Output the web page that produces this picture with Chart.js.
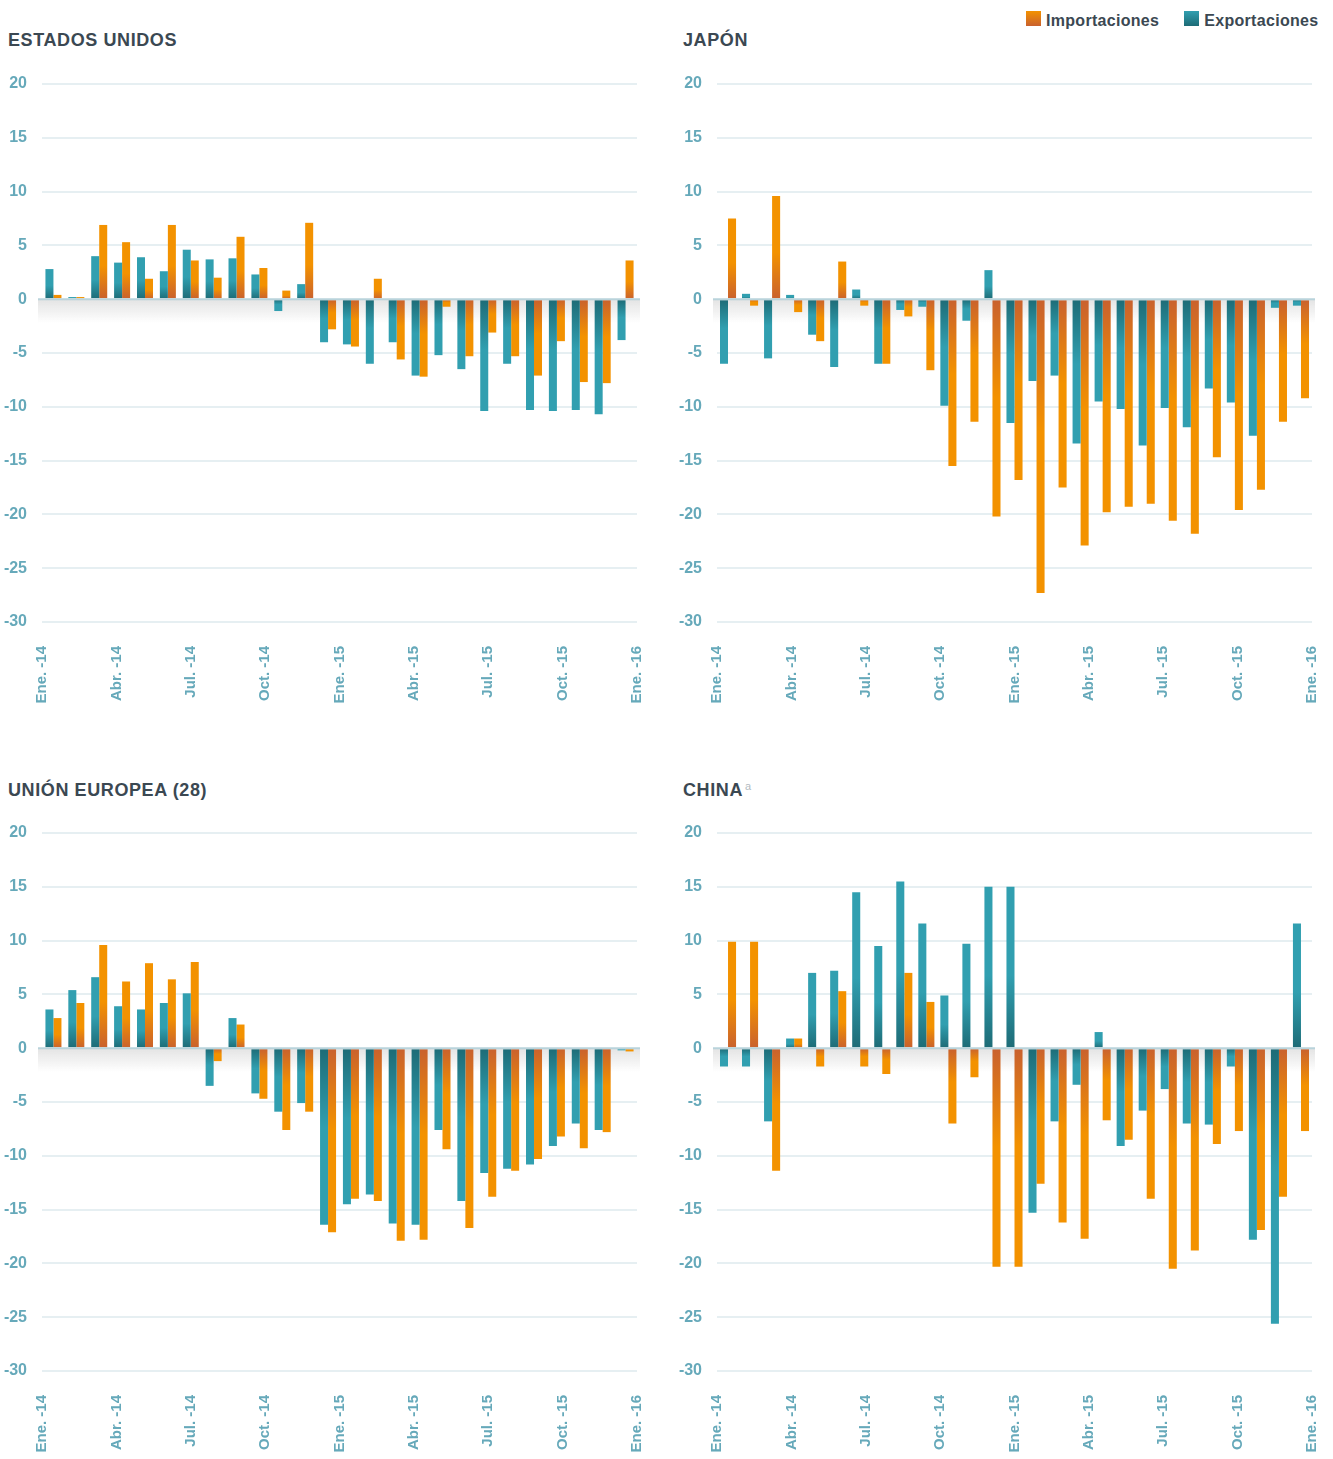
<!DOCTYPE html>
<html lang="es">
<head>
<meta charset="utf-8">
<title>Exportaciones e importaciones</title>
<script src="https://cdn.jsdelivr.net/npm/chart.js@4.4.1/dist/chart.umd.min.js"></script>
<style>
  body { margin: 0; background: #fff; font-family: 'Liberation Sans', Arial, sans-serif; }
  #page { position: relative; width: 1333px; height: 1459px; overflow: hidden; }
  .title { position: absolute; font-size: 18px; line-height: 18px; font-weight: bold; color: #3b4852; letter-spacing: 0.6px; white-space: nowrap; }
  .title sup { font-size: 11px; font-weight: normal; color: #b2bbc1; position: relative; top: -4px; margin-left: 2px; vertical-align: top; }
  .panel { position: absolute; width: 660px; height: 645px; }
  .legend { position: absolute; top: 11px; left: 1026px; display: flex; align-items: center; font-size: 16px; line-height: 16px; font-weight: bold; color: #3b4852; letter-spacing: 0.3px; white-space: nowrap; }
  .legend .sw { display: inline-block; width: 15px; height: 15px; margin-right: 5px; }
  .legend .item + .item { margin-left: 25px; }
</style>
</head>
<body>
<div id="page">
  <div class="legend">
    <span class="item"><span class="sw" style="background:linear-gradient(#f39200,#c9612e)"></span>Importaciones</span>
    <span class="item"><span class="sw" style="background:linear-gradient(#319fb0,#1d6b76)"></span>Exportaciones</span>
  </div>

  <div class="title" style="left:8px;top:31px">ESTADOS UNIDOS</div>
  <div class="title" style="left:683px;top:31px">JAPÓN</div>
  <div class="title" style="left:8px;top:781px">UNIÓN EUROPEA (28)</div>
  <div class="title" style="left:683px;top:781px">CHINA<sup>a</sup></div>

  <div class="panel" style="left:0;top:66px"><canvas id="eeuu"></canvas></div>
  <div class="panel" style="left:675px;top:66px"><canvas id="japon"></canvas></div>
  <div class="panel" style="left:0;top:815px"><canvas id="ue"></canvas></div>
  <div class="panel" style="left:675px;top:815px"><canvas id="china"></canvas></div>
</div>

<script>
// months behind the bars (Ene-14 .. Mar-16)
const MESES = ['Ene-14','Feb-14','Mar-14','Abr-14','May-14','Jun-14','Jul-14','Ago-14','Sep-14','Oct-14','Nov-14','Dic-14',
  'Ene-15','Feb-15','Mar-15','Abr-15','May-15','Jun-15','Jul-15','Ago-15','Sep-15','Oct-15','Nov-15','Dic-15',
  'Ene-16','Feb-16','Mar-16'];

// tick labels along the bottom axis
const ETIQUETAS = ['Ene. -14','','','Abr. -14','','','Jul. -14','','','Oct. -14','','',
  'Ene. -15','','','Abr. -15','','','Jul. -15','','','Oct. -15','','','Ene. -16'];

const Y_TICKS = [20, 15, 10, 5, 0, -5, -10, -15, -20, -25, -30];

const eeuuExp = [2.8, 0.2, 4.0, 3.4, 3.9, 2.6, 4.6, 3.7, 3.8, 2.3, -1.1, 1.4, -4.0, -4.2, -6.0, -4.0, -7.1, -5.2, -6.5, -10.4, -6.0, -10.3, -10.4, -10.3, -10.7, -3.8];
const eeuuImp = [0.4, 0.2, 6.9, 5.3, 1.9, 6.9, 3.6, 2.0, 5.8, 2.9, 0.8, 7.1, -2.8, -4.4, 1.9, -5.6, -7.2, -0.7, -5.3, -3.1, -5.3, -7.1, -3.9, -7.7, -7.8, 3.6];

const japonExp = [-6.0, 0.5, -5.5, 0.4, -3.3, -6.3, 0.9, -6.0, -1.0, -0.7, -9.9, -2.0, 2.7, -11.5, -7.6, -7.1, -13.4, -9.5, -10.2, -13.6, -10.1, -11.9, -8.3, -9.6, -12.7, -0.8, -0.6];
const japonImp = [7.5, -0.6, 9.6, -1.2, -3.9, 3.5, -0.6, -6.0, -1.6, -6.6, -15.5, -11.4, -20.2, -16.8, -27.3, -17.5, -22.9, -19.8, -19.3, -19.0, -20.6, -21.8, -14.7, -19.6, -17.7, -11.4, -9.2];

const ueExp = [3.6, 5.4, 6.6, 3.9, 3.6, 4.2, 5.1, -3.5, 2.8, -4.2, -5.9, -5.1, -16.4, -14.5, -13.6, -16.3, -16.4, -7.6, -14.2, -11.6, -11.2, -10.8, -9.1, -7.0, -7.6, -0.2];
const ueImp = [2.8, 4.2, 9.6, 6.2, 7.9, 6.4, 8.0, -1.2, 2.2, -4.7, -7.6, -5.9, -17.1, -14.0, -14.2, -17.9, -17.8, -9.4, -16.7, -13.8, -11.4, -10.3, -8.2, -9.3, -7.8, -0.3];

const chinaExp = [-1.7, -1.7, -6.8, 0.9, 7.0, 7.2, 14.5, 9.5, 15.5, 11.6, 4.9, 9.7, 15.0, 15.0, -15.3, -6.8, -3.4, 1.5, -9.1, -5.8, -3.8, -7.0, -7.1, -1.7, -17.8, -25.6, 11.6];
const chinaImp = [9.9, 9.9, -11.4, 0.9, -1.7, 5.3, -1.7, -2.4, 7.0, 4.3, -7.0, -2.7, -20.3, -20.3, -12.6, -16.2, -17.7, -6.7, -8.5, -14.0, -20.5, -18.8, -8.9, -7.7, -16.9, -13.8, -7.7];

const TEAL = ['#319fb0', '#1d6b76'];
const ORANGE = ['#f39200', '#c9612e'];
const TICK_COLOR = '#66a9ba';

// each bar darkens towards the zero line
function barFill([bright, dark]) {
  return c => {
    const chart = c.chart;
    if (!chart.chartArea || c.raw == null) return bright;
    const y = chart.scales.y;
    const y0 = y.getPixelForValue(0);
    const y1 = y.getPixelForValue(c.raw);
    if (Math.abs(y1 - y0) < 2) return dark;
    const g = chart.ctx.createLinearGradient(0, y0, 0, y1);
    g.addColorStop(0, dark);
    g.addColorStop(0.45, bright);
    g.addColorStop(1, bright);
    return g;
  };
}

// soft shadow under the zero line, then the line itself on top of the bars
const zeroLine = {
  id: 'zeroLine',
  beforeDatasetsDraw(chart) {
    const { ctx, chartArea: a } = chart;
    const y0 = chart.scales.y.getPixelForValue(0);
    const g = ctx.createLinearGradient(0, y0, 0, y0 + 24);
    g.addColorStop(0, 'rgba(70,70,70,0.15)');
    g.addColorStop(1, 'rgba(70,70,70,0)');
    ctx.save();
    ctx.fillStyle = g;
    ctx.fillRect(a.left - 4, y0, a.width + 7, 24);
    ctx.restore();
  },
  afterDatasetsDraw(chart) {
    const { ctx, chartArea: a } = chart;
    const y0 = chart.scales.y.getPixelForValue(0);
    ctx.save();
    ctx.strokeStyle = '#b9d3db';
    ctx.lineWidth = 2;
    ctx.beginPath();
    ctx.moveTo(a.left - 4, y0);
    ctx.lineTo(a.right + 3, y0);
    ctx.stroke();
    ctx.restore();
  }
};

function drawPanel(id, exp, imp) {
  const months = MESES.slice(0, exp.length);
  const catPct = exp.length > 26 ? 0.73 : 0.70;
  new Chart(document.getElementById(id), {
    type: 'bar',
    data: {
      labels: months,
      datasets: [
        { label: 'Exportaciones', data: exp, backgroundColor: barFill(TEAL), xAxisID: 'x',
          categoryPercentage: catPct, barPercentage: 1 },
        { label: 'Importaciones', data: imp, backgroundColor: barFill(ORANGE), xAxisID: 'x',
          categoryPercentage: catPct, barPercentage: 1 }
      ]
    },
    options: {
      responsive: true,
      maintainAspectRatio: false,
      animation: false,
      layout: { padding: { top: 18, right: 23, bottom: 0, left: 0 } },
      plugins: { legend: { display: false }, tooltip: { enabled: false } },
      scales: {
        x: { type: 'category', display: false, offset: true },
        x2: {
          type: 'category',
          labels: ETIQUETAS,
          position: 'bottom',
          offset: false,
          grid: { display: false, drawTicks: false },
          border: { display: false },
          ticks: {
            autoSkip: false, minRotation: 90, maxRotation: 90, padding: 24,
            color: TICK_COLOR, font: { family: 'Liberation Sans', size: 15, weight: 'bold' }
          },
          afterFit: s => { s.height = 89; s.paddingLeft = 0; s.paddingRight = 0; }
        },
        y: {
          min: -30,
          max: 20,
          afterBuildTicks: s => { s.ticks = Y_TICKS.map(v => ({ value: v })); },
          grid: {
            drawTicks: false,
            lineWidth: 2,
            color: c => c.tick && c.tick.value === 0 ? 'rgba(0,0,0,0)' : '#e6eff2'
          },
          border: { display: false },
          ticks: {
            padding: 15, color: TICK_COLOR,
            font: { family: 'Liberation Sans', size: 16, weight: 'bold' }
          },
          afterFit: s => { s.width = 42; s.paddingTop = 0; s.paddingBottom = 0; }
        }
      }
    },
    plugins: [zeroLine]
  });
}

drawPanel('eeuu', eeuuExp, eeuuImp);
drawPanel('japon', japonExp, japonImp);
drawPanel('ue', ueExp, ueImp);
drawPanel('china', chinaExp, chinaImp);
</script>
</body>
</html>
